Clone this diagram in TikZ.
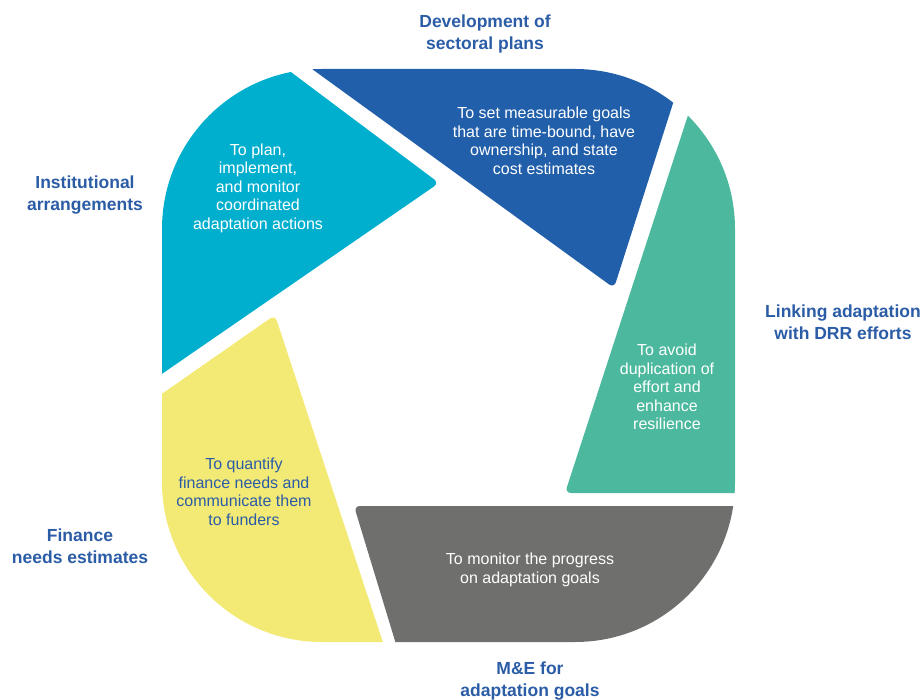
\documentclass[tikz,border=0pt]{standalone}
\usepackage{fontspec}
\setmainfont{Liberation Sans}
\usepackage{xcolor}
\usepackage{tikz}

\definecolor{instcyan}{RGB}{0,175,206}
\definecolor{secblue}{RGB}{33,95,170}
\definecolor{drrteal}{RGB}{76,185,159}
\definecolor{megray}{RGB}{111,111,109}
\definecolor{finyellow}{RGB}{243,234,118}
\definecolor{lblblue}{RGB}{43,92,166}

\begin{document}
\begin{tikzpicture}[x=1pt,y=-1pt,
    txt/.style={align=center,text=white,font=\fontsize{16}{18.5}\selectfont},
    lbl/.style={align=center,text=lblblue,font=\bfseries\fontsize{17.5}{22}\selectfont}]
  \useasboundingbox (0,0) rectangle (921,700);
  % the rounded square, cut in five pieces
  \begin{scope}
    \clip[rounded corners=6pt] (152,-32) -- (439,183) -- (140,389) -- (100,389) -- (100,-32) -- cycle;
    \fill[instcyan,rounded corners=160pt] (162,69) rectangle (735,642);
  \end{scope}
  \begin{scope}
    \clip[rounded corners=6pt] (614,288) -- (250,24) -- (250,-50) -- (722,-50) -- cycle;
    \fill[secblue,rounded corners=160pt] (162,69) rectangle (735,642);
  \end{scope}
  \begin{scope}
    \clip[rounded corners=6pt] (719,20) -- (565,493) -- (800,493) -- (800,20) -- cycle;
    \fill[drrteal,rounded corners=160pt] (162,69) rectangle (735,642);
  \end{scope}
  \begin{scope}
    \clip[rounded corners=6pt] (354,506) -- (800,506) -- (800,700) -- (413,700) -- cycle;
    \fill[megray,rounded corners=160pt] (162,69) rectangle (735,642);
  \end{scope}
  \begin{scope}
    \clip[rounded corners=6pt] (275,315) -- (402,700) -- (100,700) -- (100,437) -- cycle;
    \fill[finyellow,rounded corners=160pt] (162,69) rectangle (735,642);
  \end{scope}
  % texts in the pieces
  \node[txt] (txtinst) at (258,188) {To plan,\\implement,\\and monitor\\coordinated\\adaptation actions};
  \node[txt] (txtdev) at (544,141) {To set measurable goals\\that are time-bound, have\\ownership, and state\\cost estimates};
  \node[txt] (txtdrr) at (667,387) {To avoid\\duplication of\\effort and\\enhance\\resilience};
  \node[txt] (txtme) at (530,570) {To monitor the progress\\on adaptation goals};
  \node[txt,text=lblblue] (txtfin) at (244,492) {To quantify\\finance needs and\\communicate them\\to funders};
  % labels round the square
  \node[lbl] (lbldev) at (485,34) {Development of\\sectoral plans};
  \node[lbl] (lblinst) at (85,195) {Institutional\\arrangements};
  \node[lbl] (lbldrr) at (843,322) {Linking adaptation\\with DRR efforts};
  \node[lbl] (lblfin) at (80,546) {Finance\\needs estimates};
  \node[lbl] (lblme) at (530,681) {M\&E for\\adaptation goals};
\end{tikzpicture}
\end{document}
